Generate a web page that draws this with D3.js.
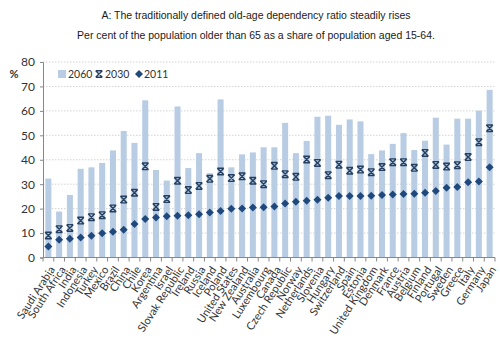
<!DOCTYPE html>
<html>
<head>
<meta charset="utf-8">
<script src="https://cdn.jsdelivr.net/npm/d3@7"></script>
<style>
    body {margin: 0; background: #fff;}
    .title {font-family: "Liberation Sans", Arial, sans-serif; font-size: 10.5px; fill: #1a1a1a;}
    .tick text, .lab {font-family: Lato, "Open Sans", sans-serif; fill: #333;}
    .grid line {stroke: #d4d4d4; stroke-dasharray: 1.5,1.5;}
</style>
</head>
<body>
<svg id="chart"></svg>
<script>
const countries = ['Saudi Arabia','South Africa','India','Indonesia','Turkey','Mexico','Brazil','China','Chile','Korea',
    'Argentina','Israel','Slovak Republic','Ireland','Russia','Iceland','Poland','United States','New Zealand','Australia',
    'Luxembourg','Canada','Czech Republic','Norway','Netherlands','Slovenia','Hungary','Switzerland','Spain','Estonia',
    'United Kingdom','Denmark','France','Austria','Belgium','Finland','Portugal','Sweden','Greece','Italy','Germany','Japan'];
const v2060 = [32.3,18.8,25.6,36.3,36.9,38.7,43.8,51.8,46.9,64.3,
    35.8,31.5,61.8,36.6,42.7,34.5,64.7,36.9,42.2,43.0,
    45.1,45.1,55.1,42.7,47.7,57.6,58.0,54.3,56.5,55.7,
    42.3,43.8,46.5,50.9,44.0,47.8,57.2,46.2,56.8,56.8,60.1,68.6];
const v2030 = [9.0,11.6,12.1,15.1,16.5,17.3,20.1,23.7,26.5,37.3,
    20.7,23.9,31.4,27.6,29.3,32.2,35.2,32.5,33.2,31.4,
    30.0,37.5,34.1,33.0,40.1,38.7,33.7,38.0,35.5,36.0,
    34.9,37.0,39.0,39.0,36.7,42.8,37.9,37.2,37.8,41.1,47.2,52.9];
const v2011 = [4.5,7.3,7.7,8.2,8.9,9.9,10.5,11.4,13.7,15.8,
    16.4,16.9,17.1,17.3,17.7,18.4,19.0,19.9,20.1,20.5,
    20.6,20.9,22.1,22.8,23.2,23.6,24.5,25.2,25.2,25.2,
    25.3,25.6,25.8,26.0,26.1,26.5,27.2,28.5,28.9,30.8,31.1,36.9];
const yTicks = [0,10,20,30,40,50,60,70,80];
const titles = ['A: The traditionally defined old-age dependency ratio steadily rises',
    'Per cent of the population older than 65 as a share of population aged 15-64.'];

let graphicopt = {
    width: 500, height: 339,
    margin: {top: 62, right: 5, bottom: 81.5, left: 43},
    barcolor: '#b8cce4',
    xcolor: '#243f60',
    diacolor: '#1f497d',
    widthG: function(){return this.width-this.margin.left-this.margin.right},
    heightG: function(){return this.height-this.margin.top-this.margin.bottom},
};

let data = countries.map((c,i)=>({key:c, v2060:v2060[i], v2030:v2030[i], v2011:v2011[i]}));

let svg = d3.select('#chart')
    .attr('width', graphicopt.width)
    .attr('height', graphicopt.height);

svg.selectAll('.title').data(titles).enter()
    .append('text').attr('class','title')
    .attr('x', 256).attr('y', (d,i)=>19+i*19.5)
    .attr('text-anchor','middle')
    .text(d=>d);

let g = svg.append('g')
    .attr('transform',`translate(${graphicopt.margin.left},${graphicopt.margin.top})`);

let x = d3.scaleBand()
    .domain(countries)
    .range([0, graphicopt.widthG()])
    .paddingInner(0.44)
    .paddingOuter(0.22);
let y = d3.scaleLinear()
    .domain([0,80])
    .range([graphicopt.heightG(), 0]);

// dotted gridlines
g.append('g').attr('class','grid')
    .selectAll('line').data(yTicks.filter(d=>d>0)).enter()
    .append('line')
    .attr('x1',0).attr('x2',graphicopt.widthG())
    .attr('y1',d=>y(d)).attr('y2',d=>y(d));

// y axis
let yAxis = g.append('g').attr('class','y axis')
    .call(d3.axisLeft(y).tickValues(yTicks).tickSize(3).tickPadding(5));
yAxis.select('.domain').attr('stroke','#888');
yAxis.selectAll('.tick line').attr('stroke','#888');
yAxis.selectAll('.tick text').style('font-size','12px');

g.append('text').attr('class','lab')
    .attr('x',-29).attr('y',16)
    .style('font-size','11px').style('font-weight','bold')
    .attr('text-anchor','middle')
    .text('%');

// bars 2060
g.selectAll('.bar').data(data).enter()
    .append('rect').attr('class','bar')
    .attr('x',d=>x(d.key))
    .attr('width',x.bandwidth())
    .attr('y',d=>y(d.v2060))
    .attr('height',d=>graphicopt.heightG()-y(d.v2060))
    .style('fill',graphicopt.barcolor);

// x axis, ticks between categories
let half = x.step()*x.paddingInner()/2;
let xg = g.append('g').attr('class','x axis')
    .attr('transform',`translate(0,${graphicopt.heightG()})`);
xg.append('line').attr('x1',0).attr('x2',graphicopt.widthG()).attr('stroke','#888');
xg.selectAll('.sep').data(countries.concat(['end'])).enter()
    .append('line').attr('class','sep')
    .attr('x1',(d,i)=> i<countries.length ? x(d)-half : x(countries[i-1])+x.bandwidth()+half)
    .attr('x2',(d,i)=> i<countries.length ? x(d)-half : x(countries[i-1])+x.bandwidth()+half)
    .attr('y1',0).attr('y2',4)
    .attr('stroke','#888');
xg.selectAll('.xlab').data(countries).enter()
    .append('text').attr('class','lab xlab')
    .style('font-size','11px')
    .attr('text-anchor','end')
    .attr('transform',d=>`translate(${x(d)+x.bandwidth()/2+7},${12}) rotate(-57)`)
    .text(d=>d);

// markers 2030
const xmark = 'M-3.3,-3.3L3.3,3.3M3.3,-3.3L-3.3,3.3M-3.3,-3.3L3.3,-3.3M-3.3,3.3L3.3,3.3';
g.selectAll('.m2030').data(data).enter()
    .append('path').attr('class','m2030')
    .attr('d',xmark)
    .attr('transform',d=>`translate(${x(d.key)+x.bandwidth()/2},${y(d.v2030)})`)
    .attr('fill','none').attr('stroke',graphicopt.xcolor).attr('stroke-width',1.4);

// markers 2011
const diamond = 'M0,-4L4,0L0,4L-4,0Z';
g.selectAll('.m2011').data(data).enter()
    .append('path').attr('class','m2011')
    .attr('d',diamond)
    .attr('transform',d=>`translate(${x(d.key)+x.bandwidth()/2},${y(d.v2011)})`)
    .attr('fill',graphicopt.diacolor);

// legend
let legend = g.append('g').attr('transform','translate(0,12)');
legend.append('rect').attr('x',15).attr('y',-4).attr('width',8).attr('height',8).style('fill',graphicopt.barcolor);
legend.append('text').attr('class','lab').attr('x',25).attr('y',4).style('font-size','10.5px').text('2060');
legend.append('path').attr('d',xmark).attr('transform','translate(56,0)')
    .attr('fill','none').attr('stroke',graphicopt.xcolor).attr('stroke-width',1.4);
legend.append('text').attr('class','lab').attr('x',62).attr('y',4).style('font-size','10.5px').text('2030');
legend.append('path').attr('d',diamond).attr('transform','translate(96,0)').attr('fill',graphicopt.diacolor);
legend.append('text').attr('class','lab').attr('x',101).attr('y',4).style('font-size','10.5px').text('2011');
</script>
</body>
</html>
